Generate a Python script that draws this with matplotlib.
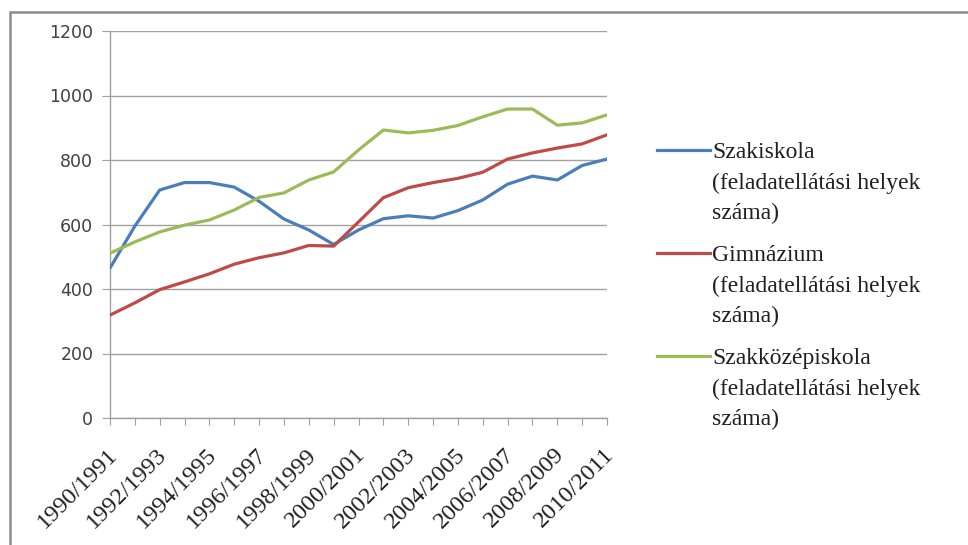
import numpy as np
import matplotlib
matplotlib.use("Agg")
import matplotlib.pyplot as plt
import matplotlib.transforms as mtransforms
from matplotlib.lines import Line2D
from matplotlib.patches import Rectangle

# School years (categories)
years = [f"{y}/{y + 1}" for y in range(1990, 2011)]

# Number of institutions per school type
szakiskola = [465, 595, 707, 730, 730, 716, 672, 617, 583, 538, 583,
              618, 627, 620, 643, 676, 725, 750, 738, 783, 803]
gimnazium = [319, 357, 398, 422, 447, 477, 497, 512, 535, 533, 608,
             683, 714, 730, 743, 762, 803, 822, 837, 850, 878]
szakkozep = [511, 546, 577, 598, 614, 645, 684, 698, 738, 763, 831,
             893, 884, 892, 907, 934, 958, 958, 908, 915, 940]

series_names = ["Szakiskola\n(feladatellátási helyek\nszáma)",
                "Gimnázium\n(feladatellátási helyek\nszáma)",
                "Szakközépiskola\n(feladatellátási helyek\nszáma)"]
colors = ["#4A7EBB", "#BE4B48", "#9BBB59"]

fig = plt.figure(figsize=(9.68, 5.45), dpi=100)
ax = fig.add_axes([110 / 968, 1 - 418 / 545, 497 / 968, 387 / 545])

x = np.arange(len(years))
for vals, c in zip([szakiskola, gimnazium, szakkozep], colors):
    ax.plot(x, vals, color=c, linewidth=2.3, solid_capstyle="round", zorder=3)

ax.set_xlim(0, len(years) - 1)
ax.set_ylim(0, 1200)
ax.set_yticks(range(0, 1201, 200))
ax.grid(axis="y", color="#A0A0A0", linewidth=1.0)
ax.set_axisbelow(True)
for s in ["top", "right"]:
    ax.spines[s].set_visible(False)
for s in ["left", "bottom"]:
    ax.spines[s].set_color("#A0A0A0")
    ax.spines[s].set_linewidth(1.0)

ax.set_xticks(x)
ax.set_xticklabels([lab if i % 2 == 0 else "" for i, lab in enumerate(years)],
                   rotation=45, ha="right", va="center", rotation_mode="anchor",
                   fontsize=17.5, family="Liberation Serif", color="#202020")
ax.tick_params(axis="x", length=5, color="#A0A0A0", pad=14)
ax.tick_params(axis="y", length=6, color="#A0A0A0", pad=6, labelsize=12.5,
               labelcolor="#404040")
shift = mtransforms.ScaledTranslation(4 / 100, -7 / 100, fig.dpi_scale_trans)
for lab in ax.get_xticklabels():
    lab.set_transform(lab.get_transform() + shift)

# Legend drawn by hand so the line sits next to the first text line
leg_y = [150, 253, 356]
for name, c, yy in zip(series_names, colors, leg_y):
    fy = 1 - yy / 545
    fig.add_artist(Line2D([657 / 968, 710 / 968], [fy, fy], color=c, linewidth=2.3,
                          transform=fig.transFigure))
    fig.text(712 / 968, 1 - (yy - 8) / 545, name, ha="left", va="top",
             fontsize=17, family="Liberation Serif", color="#202020",
             linespacing=1.58)

# Outer chart frame (clipped at right and bottom)
fig.add_artist(Rectangle((10 / 968, -0.1), 1.2, 1 - 12 / 545 + 0.1,
                         transform=fig.transFigure, fill=False,
                         edgecolor="#8C8C8C", linewidth=1.8))

fig.savefig("out.png", dpi=100)
